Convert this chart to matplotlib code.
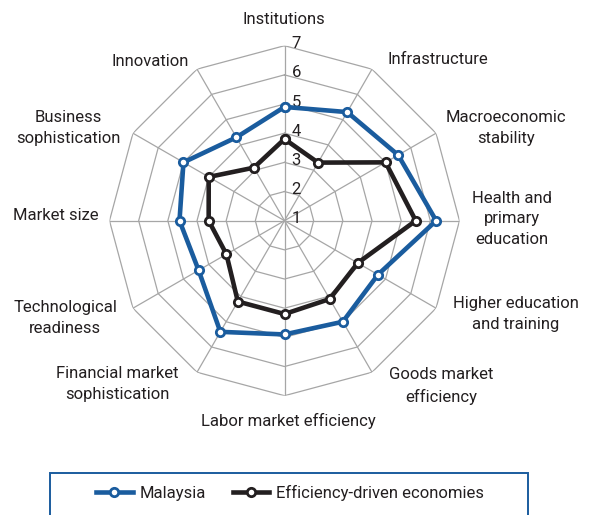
import numpy as np
import matplotlib
matplotlib.use("Agg")
import matplotlib.pyplot as plt
from matplotlib.patches import Rectangle
from matplotlib.lines import Line2D
from matplotlib.transforms import offset_copy

plt.rcParams['font.family'] = ['Roboto', 'DejaVu Sans']

# Pillars of competitiveness (clockwise from top)
categories = ['Institutions', 'Infrastructure', 'Macroeconomic\nstability',
              'Health and\nprimary\neducation', 'Higher education\nand training',
              'Goods market\nefficiency', 'Labor market efficiency',
              'Financial market\nsophistication', 'Technological\nreadiness',
              'Market size', 'Business\nsophistication', 'Innovation']
malaysia = [4.9, 5.3, 5.5, 6.2, 4.7, 5.0, 4.9, 5.4, 4.4, 4.6, 5.0, 4.3]
efficiency = [3.8, 3.3, 5.0, 5.5, 3.9, 4.1, 4.2, 4.2, 3.3, 3.6, 4.0, 3.1]
scale = [1, 2, 3, 4, 5, 6, 7]

W, H = 589, 515
fig = plt.figure(figsize=(W / 100, H / 100), dpi=100)

# polar axes centred at (284.5, 220.7) px, outer ring radius 175 px
cx, cy, R = 284.5, 220.7, 175
ax = fig.add_axes([(cx - R) / W, (H - cy - R) / H, 2 * R / W, 2 * R / H],
                  projection='polar')
ax.set_theta_offset(np.pi / 2)
ax.set_theta_direction(-1)
ax.set_ylim(1, 7)
ax.grid(False)
ax.set_xticks([])
ax.set_yticks([])
ax.spines['polar'].set_visible(False)
ax.patch.set_alpha(0)

n = len(categories)
angles = np.linspace(0, 2 * np.pi, n, endpoint=False)
closed = np.append(angles, angles[0])

grid_col = '#a6a6a6'
for r in scale[1:]:
    ax.plot(closed, [r] * (n + 1), color=grid_col, lw=0.9, zorder=1)
for a in angles:
    ax.plot([a, a], [1, 7], color=grid_col, lw=0.9, zorder=1)

txt_col = '#231f20'
tick_tr = offset_copy(ax.transData, fig=fig, x=7, y=2, units='dots')
for r in scale:
    ax.text(0, r, str(r), transform=tick_tr, ha='left', va='center',
            fontsize=12, color=txt_col, zorder=2)

blue = '#1a5c9e'
black = '#231f20'
ax.plot(closed, efficiency + efficiency[:1], color=black, lw=3.3, marker='o',
        ms=6, mfc='white', mec=black, mew=2.0, zorder=3)
ax.plot(closed, malaysia + malaysia[:1], color=blue, lw=3.3, marker='o',
        ms=6, mfc='white', mec=blue, mew=2.0, zorder=4)

# category label positions (px)
label_pos = [(284, 19), (438, 60), (506, 128), (512, 219), (516, 314),
             (441, 386), (288, 421), (117, 384), (65, 318), (56, 216),
             (68, 128), (150, 61)]
for lab, (x, y) in zip(categories, label_pos):
    fig.text(x / W, 1 - y / H, lab, ha='center', va='center',
             multialignment='center', fontsize=12, color=txt_col,
             linespacing=1.48)

# legend box
fig.patches.append(Rectangle((50 / W, -0.05), 478 / W, 1 - 472.7 / H + 0.05,
                             transform=fig.transFigure, fill=False,
                             edgecolor=blue, lw=1.4))
handles = [Line2D([], [], color=blue, lw=3.3, marker='o', ms=6, mfc='white',
                  mec=blue, mew=2.0),
           Line2D([], [], color=black, lw=3.3, marker='o', ms=6, mfc='white',
                  mec=black, mew=2.0)]
fig.legend(handles, ['Malaysia', 'Efficiency-driven economies'], ncol=2,
           loc='center', bbox_to_anchor=(290 / W, 1 - 493 / H),
           frameon=False, fontsize=12, handlelength=2.2, handletextpad=0.4,
           columnspacing=1.6, labelcolor=txt_col)

fig.savefig('out.png', dpi=100)
